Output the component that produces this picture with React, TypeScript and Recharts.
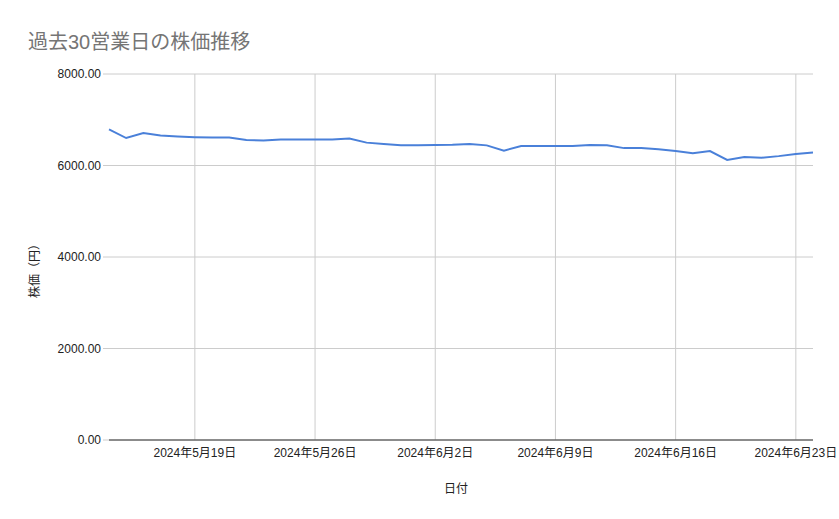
import { LineChart, Line, XAxis, YAxis, CartesianGrid, ReferenceLine } from 'recharts'

// day offsets from 2024-05-14
const days = Array.from({ length: 42 }, (_, i) => i)
const prices = [
  6790, 6600, 6710, 6655, 6635, 6620, 6610, 6610, 6555, 6545,
  6570, 6570, 6570, 6570, 6590, 6500, 6470, 6445, 6445, 6450,
  6455, 6470, 6440, 6325, 6425, 6425, 6425, 6425, 6450, 6440,
  6380, 6385, 6355, 6315, 6270, 6315, 6120, 6185, 6170, 6205,
  6250, 6285,
]
const xTicks = [5, 12, 19, 26, 33, 40]
const xTickLabels = ['2024年5月19日', '2024年5月26日', '2024年6月2日', '2024年6月9日', '2024年6月16日', '2024年6月23日']
const yTicks = [0, 2000, 4000, 6000, 8000]

const data = days.map((d, i) => ({ day: d, price: prices[i] }))

const font = '"Liberation Sans", Arial, "Noto Sans CJK JP", sans-serif'

export default function App() {
  return (
    <div style={{ position: 'absolute', left: 0, top: 0, width: 839, height: 519, background: '#fff', fontFamily: font }}>
      <div style={{ position: 'absolute', left: 28, top: 26, fontSize: 20, color: '#757575', whiteSpace: 'nowrap' }}>
        過去30営業日の株価推移
      </div>
      <div
        style={{
          position: 'absolute', left: 33, top: 268, fontSize: 12, color: '#222',
          transform: 'translate(-50%, -50%) rotate(-90deg)', whiteSpace: 'nowrap',
        }}
      >
        株価（円）
      </div>
      <div style={{ position: 'absolute', left: 456, top: 487, fontSize: 12, color: '#222', transform: 'translate(-50%, -50%)' }}>
        日付
      </div>
      <LineChart width={839} height={519} data={data} margin={{ top: 74, right: 26, bottom: 49, left: 0 }}>
        <CartesianGrid stroke="#cccccc" strokeWidth={1} vertical={false} />
        {xTicks.map((t) => (
          <ReferenceLine key={t} x={t} stroke="#cccccc" strokeWidth={1} />
        ))}
        <XAxis
          dataKey="day"
          type="number"
          domain={[0, 41]}
          ticks={xTicks}
          tickFormatter={(v: number) => xTickLabels[xTicks.indexOf(v)]}
          tick={{ fontSize: 12, fill: '#222', fontFamily: font }}
          tickLine={false}
          axisLine={{ stroke: '#333', strokeWidth: 1 }}
          height={30}
          interval={0}
        />
        <YAxis
          domain={[0, 8000]}
          ticks={yTicks}
          tickFormatter={(v: number) => v.toFixed(2)}
          tick={{ fontSize: 12, fill: '#222', fontFamily: font }}
          tickLine={{ stroke: '#cccccc' }}
          tickSize={6}
          axisLine={false}
          width={109}
        />
        <Line
          type="linear"
          dataKey="price"
          stroke="#4a80d9"
          strokeWidth={2}
          dot={false}
          isAnimationActive={false}
        />
      </LineChart>
    </div>
  )
}
